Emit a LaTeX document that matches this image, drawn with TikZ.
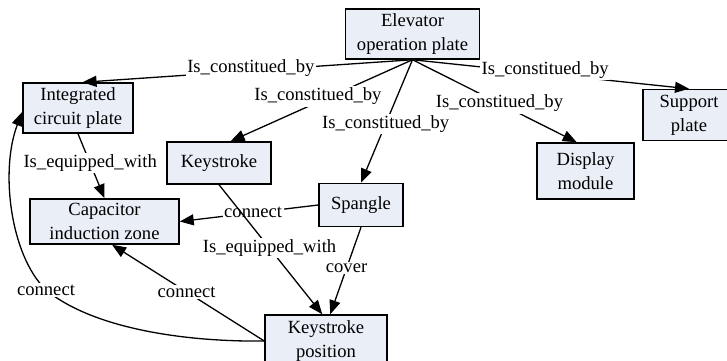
\documentclass[tikz,border=0pt]{standalone}
\usepackage{fontspec}
\setmainfont{Liberation Serif}
\newfontfamily\timesfont{Liberation Serif}
\usepackage{xcolor}
\usepackage{tikz}
\usetikzlibrary{arrows.meta}

\definecolor{partfill}{RGB}{233,238,247}

\begin{document}
\begin{tikzpicture}[
  x=0.5pt, y=-0.5pt,
  font=\timesfont\fontsize{9.3pt}{12pt}\selectfont,
  part/.style={draw, line width=0.75pt, fill=partfill, align=center, inner sep=0pt},
  link/.style={-{Triangle[length=7pt,width=5.5pt]}, line width=0.65pt},
  rel/.style={fill=white, inner sep=0.8pt}
]
\useasboundingbox (0,0) rectangle (727,360);

\node[part, minimum width=67pt, minimum height=25pt] (elev) at (412.5,34) {Elevator\\operation plate};
\node[part, minimum width=55pt, minimum height=25pt] (integ) at (78,108) {Integrated\\circuit plate};
\node[part, minimum width=52pt, minimum height=21pt] (keys) at (219,163) {Keystroke};
\node[part, minimum width=74.5pt, minimum height=22.5pt] (capac) at (104.5,221.5) {Capacitor\\induction zone};
\node[part, minimum width=42pt, minimum height=21.5pt] (spang) at (361,205) {Spangle};
\node[part, minimum width=61pt, minimum height=26pt] (keypos) at (326,341) {Keystroke\\position};
\node[part, minimum width=48.5pt, minimum height=28pt] (disp) at (585.5,171) {Display\\module};
\node[part, minimum width=46pt, minimum height=25.5pt] (supp) at (689,115) {Support\\plate};

\draw[link] (elev.south) -- node[rel, pos=0.49, yshift=1.5pt]{Is\_constitued\_by} (integ.80);
\draw[link] (elev.south) -- node[rel, pos=0.52, yshift=2.8pt]{Is\_constitued\_by} (keys.62);
\draw[link] (elev.south) -- node[rel, pos=0.52]{Is\_constitued\_by} (spang.north);
\draw[link] (elev.south) -- node[rel, pos=0.53]{Is\_constitued\_by} (disp.107);
\draw[link] (elev.south) -- node[rel, pos=0.48, yshift=2pt]{Is\_constitued\_by} (supp.north);
\draw[link] (integ.south) -- node[rel, pos=0.46]{Is\_equipped\_with} (capac.north);
\draw[link] (spang.west) -- node[rel, pos=0.47]{connect} (capac.east);
\draw[link] (keys.south) -- node[rel, pos=0.49]{Is\_equipped\_with} (keypos.98);
\draw[link] (spang.south) -- node[rel, pos=0.47]{cover} (keypos.81);
\draw[link] (keypos.west) -- node[rel, pos=0.51]{connect} (capac.-72);
\draw[link] (keypos.west) .. controls (190,342) and (95,330) .. (46,290) node[rel]{connect}
  .. controls (10,255) and (0,170) .. (integ.184);
\end{tikzpicture}
\end{document}
